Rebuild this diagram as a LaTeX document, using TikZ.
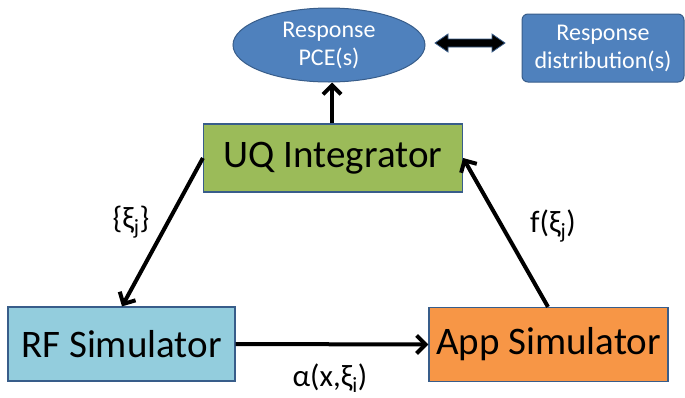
\documentclass[tikz,border=0pt]{standalone}
\usepackage{fontspec}
\setmainfont{Carlito}
\usetikzlibrary{shapes.geometric,arrows.meta}

\definecolor{pceblue}{HTML}{4F81BD}
\definecolor{edgeblue}{HTML}{385D8A}
\definecolor{uqgreen}{HTML}{9BBB59}
\definecolor{rfcyan}{HTML}{93CDDD}
\definecolor{apporange}{HTML}{F79646}

\tikzset{
  blk/.style={draw=edgeblue,line width=1.2pt,minimum height=74,inner sep=0pt,font=\fontsize{39}{44}\selectfont},
  resp/.style={draw=edgeblue,line width=1pt,fill=pceblue,text=white,align=center,inner sep=0pt,font=\fontsize{24}{28}\selectfont},
  flow/.style={line width=4pt,-{Straight Barb[length=9pt,width=18pt,line width=4pt]}},
  lbl/.style={font=\fontsize{31}{35}\selectfont}
}

\begin{document}
\begin{tikzpicture}[x=1pt,y=-1pt]
\useasboundingbox (0,0) rectangle (685,397);
\node[resp,ellipse,minimum width=192,minimum height=74] (pce) at (329,45) {Response\\PCE(s)};
\node[resp,rounded corners=6pt,minimum width=162,minimum height=68] (dist) at (603,48) {Response\\distribution(s)};
\node[blk,fill=uqgreen,minimum width=259,minimum height=68] (uq) at (333,158) {UQ Integrator};
\node[blk,fill=rfcyan,minimum width=227] (rf) at (121.5,344) {RF Simulator};
\node[blk,fill=apporange,minimum width=239] (app) at (548.5,344.5) {App Simulator};
\filldraw[fill=black,draw=edgeblue,line width=0.8pt] (435,43) -- (448,34) -- (448,39) -- (492,39) -- (492,34) -- (505,43) -- (492,52) -- (492,47) -- (448,47) -- (448,52) -- cycle;
\draw[flow] (uq.north -| 332,0) -- (pce.south -| 332,0);
\draw[flow] (uq.west) -- (rf.north -| 122,0);
\draw[flow] (rf.east) -- (app.west);
\draw[flow] (app.north -| 548,0) -- (uq.east);
\node[lbl] (xi) at (131,222) {\{ξ\textsubscript{j}\}};
\node[lbl] (fxi) at (553,226) {f(ξ\textsubscript{j})};
\node[lbl] (alpha) at (330,378) {α(x,ξ\textsubscript{i})};
\end{tikzpicture}
\end{document}
